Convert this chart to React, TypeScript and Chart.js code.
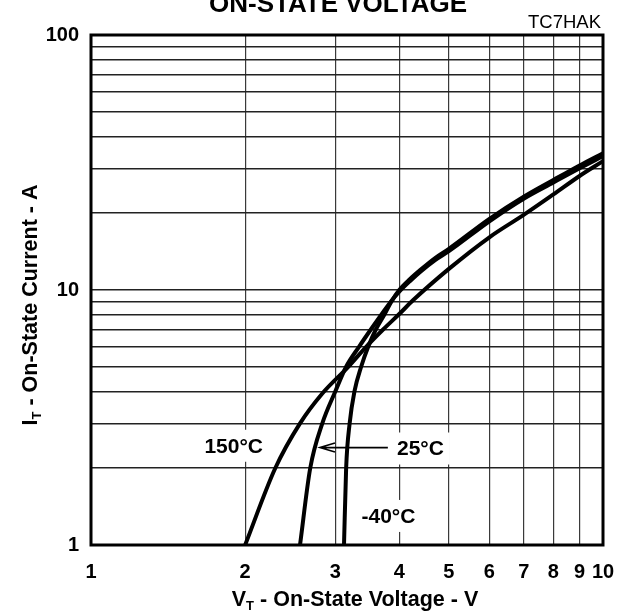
import React, { useEffect, useRef } from "react";
import { Chart, registerables } from "chart.js";

Chart.register(...registerables);

// ---- data ----
const xTicks = [1, 2, 3, 4, 5, 6, 7, 8, 9, 10];
const yTicks = [1, 2, 3, 4, 5, 6, 7, 8, 9, 10, 20, 30, 40, 50, 60, 70, 80, 90, 100];
const yLabelValues = [1, 10, 100];

const v150 = [2.0, 2.29, 2.56, 2.83, 3.18, 3.45, 3.72, 4.0, 4.26, 5, 6, 7, 8, 9, 10];
const i150 = [1, 2, 3, 3.93, 5.0, 6.0, 7.0, 8.05, 9.13, 12.1, 16.1, 19.7, 23.7, 28.0, 32.0];

const v25 = [2.56, 2.68, 2.83, 3.0, 3.15, 3.34, 3.52, 3.69, 3.85, 4.0, 4.2, 4.4, 4.7, 5, 6, 7, 8, 9, 10];
const i25 = [1, 2, 3, 4, 5, 6, 7, 8, 9, 9.85, 10.85, 11.8, 13.1, 14.2, 18.6, 22.8, 26.4, 30.0, 33.5];

const vM40 = [3.12, 3.15, 3.2, 3.27, 3.37, 3.48, 3.6, 3.74, 3.86, 4.0, 4.2, 4.4, 4.7, 5, 6, 7, 8, 9, 10];
const iM40 = [1, 2, 3, 4, 5, 6, 7, 8, 9, 10.0, 11.05, 12.0, 13.35, 14.5, 19.0, 23.2, 27.0, 30.8, 34.4];

const seriesNames = ["150°C", "25°C", "-40°C"];

// annotation anchors (data coordinates)
const labelTexts = ["150°C", "25°C", "-40°C"];
const labelV = [1.9, 4.4, 3.81];
const labelI = [2.45, 2.39, 1.3];
const arrowFromV = 3.8;
const arrowToV = 2.8;
const arrowI = 2.41;

const titleText = "ON-STATE VOLTAGE";
const codeText = "TC7HAK";
const FONT = "'Liberation Sans', Arial, Helvetica, sans-serif";

const toPts = (xs: number[], ys: number[]) => xs.map((x, i) => ({ x, y: ys[i] }));

const decorPlugin = {
  id: "decor",
  beforeDatasetsDraw(chart: any) {
    const { ctx, scales } = chart;
    const xs = scales.x;
    const ys = scales.y;
    ctx.save();
    ctx.font = `bold 21px ${FONT}`;
    ctx.textAlign = "center";
    ctx.textBaseline = "middle";
    labelTexts.forEach((t, k) => {
      const px = xs.getPixelForValue(labelV[k]);
      const py = ys.getPixelForValue(labelI[k]);
      const w = ctx.measureText(t).width;
      ctx.fillStyle = "#fff";
      ctx.fillRect(px - w / 2 - 6, py - 16, w + 12, 32);
      ctx.fillStyle = "#000";
      ctx.fillText(t, px, py + 1);
    });
    // arrow
    const ax0 = xs.getPixelForValue(arrowFromV);
    const ax1 = xs.getPixelForValue(arrowToV);
    const ay = ys.getPixelForValue(arrowI);
    ctx.strokeStyle = "#000";
    ctx.lineWidth = 1.6;
    ctx.beginPath();
    ctx.moveTo(ax0, ay);
    ctx.lineTo(ax1, ay);
    ctx.moveTo(ax1 + 15, ay - 4.5);
    ctx.lineTo(ax1, ay);
    ctx.lineTo(ax1 + 15, ay + 4.5);
    ctx.stroke();
    ctx.restore();
  },
  afterDraw(chart: any) {
    const { ctx, chartArea } = chart;
    const { left, right, top, bottom } = chartArea;
    ctx.save();
    // frame
    ctx.strokeStyle = "#000";
    ctx.lineWidth = 3;
    ctx.strokeRect(left, top, right - left, bottom - top);

    // title (partially cut off at top)
    ctx.fillStyle = "#000";
    ctx.font = `bold 26px ${FONT}`;
    ctx.textAlign = "center";
    ctx.textBaseline = "alphabetic";
    ctx.fillText(titleText, 338, 12);

    // code
    ctx.font = `18.5px ${FONT}`;
    ctx.textAlign = "right";
    ctx.fillText(codeText, 601, 28);

    // axis titles with subscript
    const drawSubTitle = (main: string, sub: string, rest: string) => {
      ctx.font = `bold 21.5px ${FONT}`;
      const w1 = ctx.measureText(main).width;
      ctx.font = `bold 13px ${FONT}`;
      const w2 = ctx.measureText(sub).width;
      ctx.font = `bold 21.5px ${FONT}`;
      const w3 = ctx.measureText(rest).width;
      const total = w1 + w2 + w3;
      let x = -total / 2;
      ctx.textAlign = "left";
      ctx.textBaseline = "alphabetic";
      ctx.fillText(main, x, 0);
      x += w1;
      ctx.font = `bold 13px ${FONT}`;
      ctx.fillText(sub, x, 4);
      x += w2;
      ctx.font = `bold 21.5px ${FONT}`;
      ctx.fillText(rest, x, 0);
    };
    ctx.save();
    ctx.translate(355, 606);
    drawSubTitle("V", "T", " - On-State Voltage - V");
    ctx.restore();

    ctx.save();
    ctx.translate(37, 305);
    ctx.rotate(-Math.PI / 2);
    drawSubTitle("I", "T", " - On-State Current - A");
    ctx.restore();

    ctx.restore();
  },
};

export default function App() {
  const ref = useRef<HTMLCanvasElement | null>(null);
  useEffect(() => {
    if (!ref.current) return;
    const mk = (label: string, xs: number[], ys: number[]) => ({
      label,
      data: toPts(xs, ys),
      borderColor: "#000",
      backgroundColor: "#000",
      borderWidth: 4,
      pointRadius: 0,
      fill: false,
      cubicInterpolationMode: "monotone" as const,
    });
    const chart = new Chart(ref.current, {
      type: "line",
      data: {
        datasets: [mk(seriesNames[0], v150, i150), mk(seriesNames[1], v25, i25), mk(seriesNames[2], vM40, iM40)],
      },
      options: {
        animation: false,
        responsive: false,
        devicePixelRatio: 1,
        layout: { padding: { top: 35, right: 14, left: 0, bottom: 0 } },
        plugins: { legend: { display: false }, tooltip: { enabled: false }, title: { display: false } },
        scales: {
          x: {
            type: "logarithmic",
            min: 1,
            max: 10,
            afterBuildTicks: (s: any) => {
              s.ticks = xTicks.map((v) => ({ value: v }));
            },
            afterFit: (s: any) => {
              s.height = 71;
              s.paddingLeft = 0;
              s.paddingRight = 0;
            },
            ticks: {
              autoSkip: false,
              maxRotation: 0,
              minRotation: 0,
              padding: 15,
              color: "#000",
              font: { family: FONT, size: 20, weight: "bold" },
              callback: (v: any) => String(v),
            },
            grid: { color: "#3a3a3a", lineWidth: 1.2, drawTicks: false },
            border: { display: false },
          },
          y: {
            type: "logarithmic",
            min: 1,
            max: 100,
            afterBuildTicks: (s: any) => {
              s.ticks = yTicks.map((v) => ({ value: v }));
            },
            afterFit: (s: any) => {
              s.width = 91;
              s.paddingTop = 0;
              s.paddingBottom = 0;
            },
            ticks: {
              autoSkip: false,
              padding: 12,
              color: "#000",
              font: { family: FONT, size: 20, weight: "bold" },
              callback: (v: any) => (yLabelValues.includes(Number(v)) ? String(v) : ""),
            },
            grid: { color: "#222", lineWidth: 1.6, drawTicks: false },
            border: { display: false },
          },
        },
      },
      plugins: [decorPlugin],
    });
    return () => chart.destroy();
  }, []);
  return (
    <div style={{ position: "absolute", left: 0, top: 0, width: 617, height: 616, background: "#fff" }}>
      <canvas ref={ref} width={617} height={616} style={{ display: "block" }} />
    </div>
  );
}
